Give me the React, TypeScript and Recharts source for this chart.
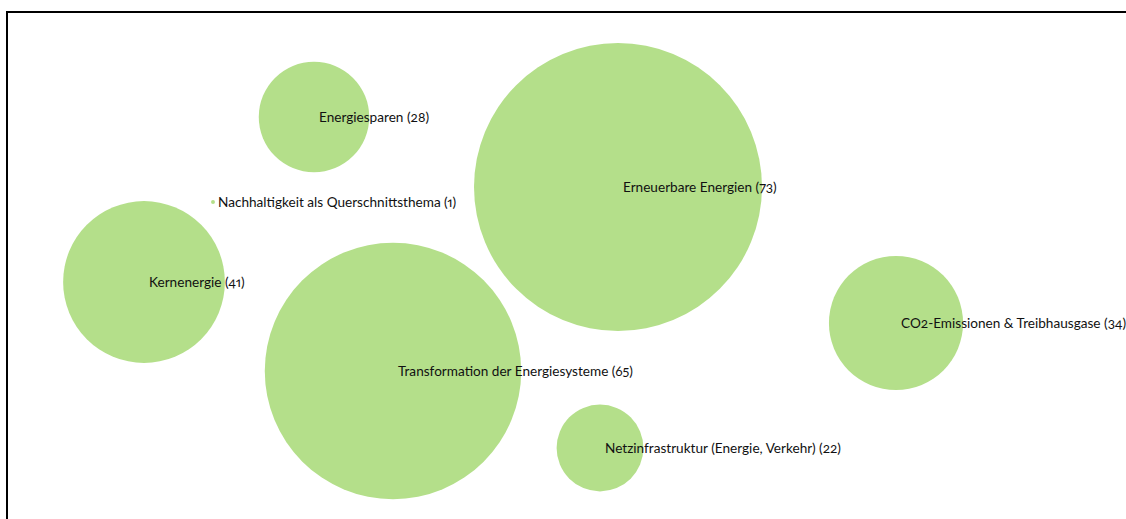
import React from "react";
import { ScatterChart, Scatter, XAxis, YAxis, ZAxis } from "recharts";

const topics = [
  "Energiesparen",
  "Erneuerbare Energien",
  "Nachhaltigkeit als Querschnittsthema",
  "Kernenergie",
  "Transformation der Energiesysteme",
  "CO2-Emissionen & Treibhausgase",
  "Netzinfrastruktur (Energie, Verkehr)",
];
const counts = [28, 73, 1, 41, 65, 34, 22];
const posX = [307, 611, 206, 137, 386, 889, 593];
const posY = [105, 175, 190, 270, 359, 311, 436];

const data = topics.map((t, i) => ({
  label: t,
  count: counts[i],
  x: posX[i],
  y: posY[i],
}));

const Bubble = (props: any) => {
  const { cx, cy, size, payload } = props;
  return (
    <g>
      <circle cx={cx} cy={cy} r={size} fill="#b4df8a" />
      <text
        x={cx + 5}
        y={cy + 5}
        fontFamily="Lato, 'Open Sans', sans-serif"
        fontSize={13.6}
        fill="#111"
        style={{
          fontVariantNumeric: "oldstyle-nums proportional-nums",
          fontFeatureSettings: "'onum' 1, 'pnum' 1",
        }}
      >
        {`${payload.label} (${payload.count})`}
      </text>
    </g>
  );
};

export default function App() {
  return (
    <div style={{ position: "absolute", left: 0, top: 0, width: 1126, height: 519, background: "#fff" }}>
      <ScatterChart
        width={1126}
        height={519}
        margin={{ top: 12, left: 7, right: 0, bottom: 0 }}
      >
        <XAxis type="number" dataKey="x" domain={[0, 1119]} hide />
        <YAxis type="number" dataKey="y" domain={[0, 507]} reversed hide />
        <ZAxis type="number" dataKey="count" domain={[0, 73]} range={[0, 144]} />
        <Scatter data={data} shape={Bubble} isAnimationActive={false} />
      </ScatterChart>
      <div
        style={{
          position: "absolute",
          left: 6,
          top: 11,
          width: 1126,
          height: 519,
          borderTop: "2px solid #000",
          borderLeft: "2px solid #000",
          pointerEvents: "none",
        }}
      />
    </div>
  );
}
